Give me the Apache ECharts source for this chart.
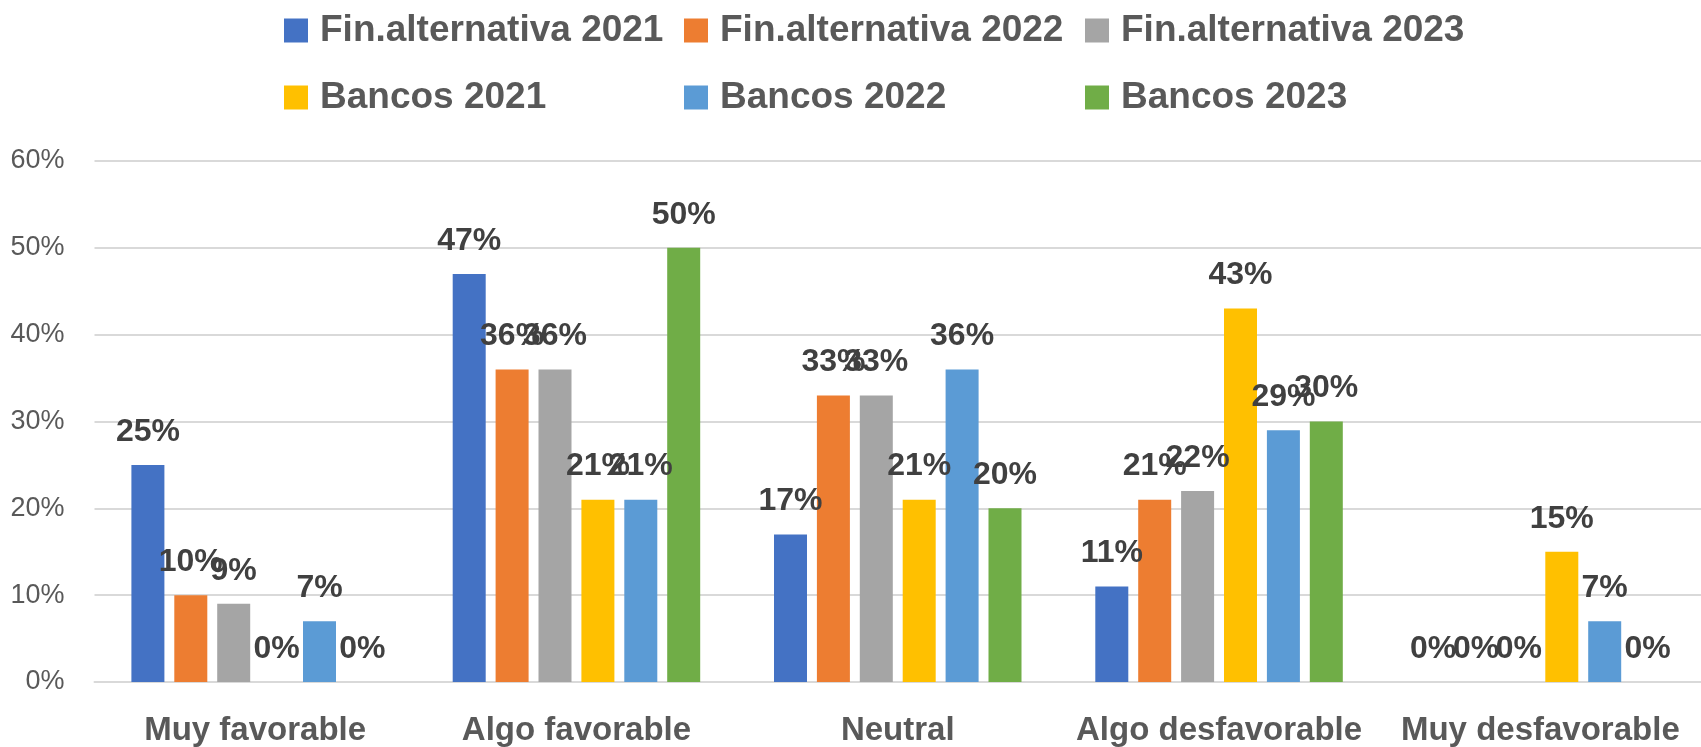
<!DOCTYPE html>
<html>
<head>
<meta charset="utf-8">
<script src="https://cdn.jsdelivr.net/npm/echarts@6/dist/echarts.min.js"></script>
<style>
html,body{margin:0;padding:0;background:#fff;}
#chart{width:1701px;height:747px;}
</style>
</head>
<body>
<div id="chart"></div>
<script>
const categories = ['Muy favorable', 'Algo favorable', 'Neutral', 'Algo desfavorable', 'Muy desfavorable'];
const seriesNames = ['Fin.alternativa 2021', 'Fin.alternativa 2022', 'Fin.alternativa 2023', 'Bancos 2021', 'Bancos 2022', 'Bancos 2023'];
const finAlt2021 = [25, 47, 17, 11, 0];
const finAlt2022 = [10, 36, 33, 21, 0];
const finAlt2023 = [9, 36, 33, 22, 0];
const bancos2021 = [0, 21, 21, 43, 15];
const bancos2022 = [7, 21, 36, 29, 7];
const bancos2023 = [0, 50, 20, 30, 0];
const yTicks = [0, 10, 20, 30, 40, 50, 60];

const seriesValues = [finAlt2021, finAlt2022, finAlt2023, bancos2021, bancos2022, bancos2023];
const colors = ['#4472C4', '#ED7D31', '#A5A5A5', '#FFC000', '#5B9BD5', '#70AD47'];
const FONT = '"Liberation Sans", Arial, sans-serif';

const legendPos = [
  [284, 12], [684, 12], [1085, 12],
  [284, 79], [684, 79], [1085, 79]
];

const chart = echarts.init(document.getElementById('chart'), null, {renderer: 'canvas'});
chart.setOption({
  animation: false,
  backgroundColor: '#ffffff',
  color: colors,
  legend: seriesNames.map((n, i) => ({
    data: [n],
    left: legendPos[i][0],
    top: legendPos[i][1],
    padding: 0,
    itemWidth: 24,
    itemHeight: 24,
    icon: 'rect',
    selectedMode: false,
    textStyle: {fontFamily: FONT, fontSize: 37, fontWeight: 'bold', color: '#595959', padding: [0, 0, 0, 7]}
  })),
  grid: {left: 94.5, top: 161, width: 1625, height: 523, containLabel: false},
  xAxis: {
    type: 'category',
    data: categories,
    axisLine: {lineStyle: {color: '#D9D9D9', width: 2}},
    axisTick: {show: false},
    axisLabel: {interval: 0, margin: 32, fontFamily: FONT, fontSize: 33, fontWeight: 'bold', color: '#595959'}
  },
  yAxis: {
    type: 'value',
    min: yTicks[0],
    max: yTicks[yTicks.length - 1],
    interval: 10,
    axisLine: {show: false},
    axisTick: {show: false},
    splitLine: {lineStyle: {color: '#D9D9D9', width: 2}},
    axisLabel: {margin: 30, fontFamily: FONT, fontSize: 27, color: '#595959', formatter: '{value}%'}
  },
  series: seriesNames.map((n, i) => ({
    name: n,
    type: 'bar',
    data: seriesValues[i],
    barWidth: 33,
    barGap: '30%',
    itemStyle: {color: colors[i]},
    label: {
      show: true,
      position: 'top',
      distance: 17,
      formatter: '{c}%',
      fontFamily: FONT,
      fontSize: 32,
      fontWeight: 'bold',
      color: '#404040'
    }
  }))
});
</script>
</body>
</html>
